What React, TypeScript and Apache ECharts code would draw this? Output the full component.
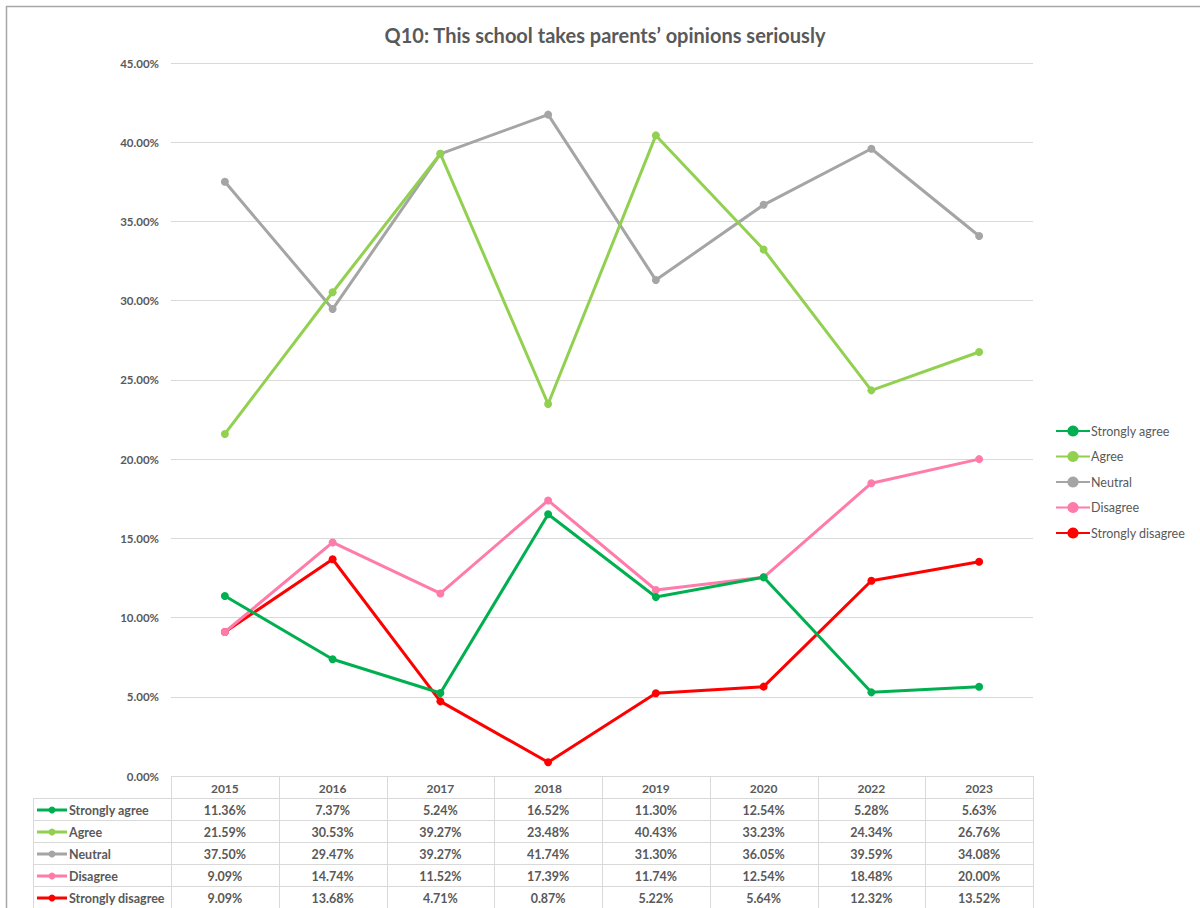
import React, { useEffect, useRef } from "react";
import * as echarts from "echarts";

const years = ["2015", "2016", "2017", "2018", "2019", "2020", "2022", "2023"];
const stronglyAgree = [11.36, 7.37, 5.24, 16.52, 11.3, 12.54, 5.28, 5.63];
const agree = [21.59, 30.53, 39.27, 23.48, 40.43, 33.23, 24.34, 26.76];
const neutral = [37.5, 29.47, 39.27, 41.74, 31.3, 36.05, 39.59, 34.08];
const disagree = [9.09, 14.74, 11.52, 17.39, 11.74, 12.54, 18.48, 20.0];
const stronglyDisagree = [9.09, 13.68, 4.71, 0.87, 5.22, 5.64, 12.32, 13.52];
const seriesNames = ["Strongly agree", "Agree", "Neutral", "Disagree", "Strongly disagree"];
const seriesData = [stronglyAgree, agree, neutral, disagree, stronglyDisagree];
const seriesColors = ["#00B050", "#92D050", "#A5A5A5", "#FF7BA9", "#FF0000"];
const title = "Q10: This school takes parents\u2019 opinions seriously";

const FONT = "Lato, 'Liberation Sans', sans-serif";
const TXT = "#595959";
const GRIDC = "#D9D9D9";

export default function App() {
  const ref = useRef<HTMLDivElement>(null);
  useEffect(() => {
    if (!ref.current) return;
    const chart = echarts.init(ref.current, null, { renderer: "svg" });
    const gridLeft = 171;
    const gridRight = 1033;
    const gridTop = 63;
    const gridBottomY = 776;
    const W = 1200;
    const H = 908;
    chart.setOption({
      animation: false,
      backgroundColor: "#fff",
      textStyle: { fontFamily: FONT },
      title: {
        text: title,
        left: 600,
        top: 20,
        textAlign: "center",
        textStyle: { fontFamily: FONT, fontSize: 20, fontWeight: "bold", color: TXT },
      },
      legend: {
        orient: "vertical",
        left: 1050,
        top: 419,
        itemWidth: 34,
        itemHeight: 14,
        itemGap: 11.5,
        data: seriesNames,
        textStyle: { fontFamily: FONT, fontSize: 12.5, color: TXT, padding: [0, 0, 0, -4], height: 14, lineHeight: 14 },
      },
      grid: {
        left: gridLeft,
        right: W - gridRight,
        top: gridTop,
        bottom: H - gridBottomY,
      },
      xAxis: {
        type: "category",
        data: years,
        boundaryGap: true,
        axisLine: { show: false },
        axisTick: { show: false },
        axisLabel: { show: false },
      },
      yAxis: {
        type: "value",
        min: 0,
        max: 45,
        interval: 5,
        axisLine: { show: false },
        axisTick: { show: false },
        axisLabel: {
          formatter: (v: number) => v.toFixed(2) + "%",
          fontFamily: FONT,
          fontSize: 11.5,
          fontWeight: "bold",
          color: TXT,
          margin: 12,
        },
        splitLine: { lineStyle: { color: GRIDC, width: 1 } },
      },
      series: seriesNames.map((name, i) => ({
        name,
        type: "line",
        data: seriesData[i],
        symbol: "circle",
        symbolSize: 8,
        itemStyle: { color: seriesColors[i] },
        lineStyle: { color: seriesColors[i], width: 3 },
        z: 10 - i,
      })),
    });

    // data table built from the same arrays, positions taken from the axis scale
    const centers = years.map((y) => chart.convertToPixel({ xAxisIndex: 0 }, y) as number);
    const colW = (gridRight - gridLeft) / years.length;
    const rowH = 22;
    const tableTop = gridBottomY;
    const labelLeft = 33;
    const nRows = seriesNames.length;
    const tableBottom = tableTop + rowH * (nRows + 1);
    const els: any[] = [];
    const ls = { stroke: "#D9D9D9", lineWidth: 1 };
    els.push({ type: "line", shape: { x1: gridLeft, y1: tableTop + 0.5, x2: gridRight, y2: tableTop + 0.5 }, style: ls });
    for (let r = 1; r <= nRows + 1; r++) {
      const y = tableTop + r * rowH + 0.5;
      els.push({ type: "line", shape: { x1: labelLeft, y1: y, x2: gridRight, y2: y }, style: ls });
    }
    els.push({ type: "line", shape: { x1: labelLeft + 0.5, y1: tableTop + rowH, x2: labelLeft + 0.5, y2: tableBottom }, style: ls });
    for (let c = 0; c <= years.length; c++) {
      const x = Math.round(gridLeft + c * colW) + 0.5;
      els.push({ type: "line", shape: { x1: x, y1: tableTop, x2: x, y2: tableBottom }, style: ls });
    }
    years.forEach((y, c) => {
      els.push({
        type: "text",
        x: centers[c],
        y: tableTop + rowH / 2 + 1,
        style: { text: y, fill: TXT, font: `bold 12px ${FONT}`, align: "center", verticalAlign: "middle" },
      });
    });
    seriesNames.forEach((name, r) => {
      const cy = tableTop + (r + 1) * rowH + rowH / 2 + 1;
      els.push({ type: "line", shape: { x1: 37, y1: cy, x2: 67, y2: cy }, style: { stroke: seriesColors[r], lineWidth: 3 } });
      els.push({ type: "circle", shape: { cx: 52, cy, r: 3.5 }, style: { fill: seriesColors[r] } });
      els.push({
        type: "text",
        x: 69,
        y: cy,
        style: { text: name, fill: TXT, font: `bold 12.5px ${FONT}`, align: "left", verticalAlign: "middle" },
      });
      seriesData[r].forEach((v, c) => {
        els.push({
          type: "text",
          x: centers[c],
          y: cy,
          style: { text: v.toFixed(2) + "%", fill: TXT, font: `bold 12.5px ${FONT}`, align: "center", verticalAlign: "middle" },
        });
      });
    });
    els.push({
      type: "rect",
      shape: { x: 6.5, y: 6.5, width: 1300, height: 1000 },
      style: { fill: "none", stroke: "#A6A6A6", lineWidth: 1.5 },
      silent: true,
    });
    chart.setOption({ graphic: { elements: els } });
    return () => chart.dispose();
  }, []);
  return (
    <div
      ref={ref}
      style={{ position: "fixed", left: 0, top: 0, width: 1200, height: 908, background: "#fff" }}
    />
  );
}
